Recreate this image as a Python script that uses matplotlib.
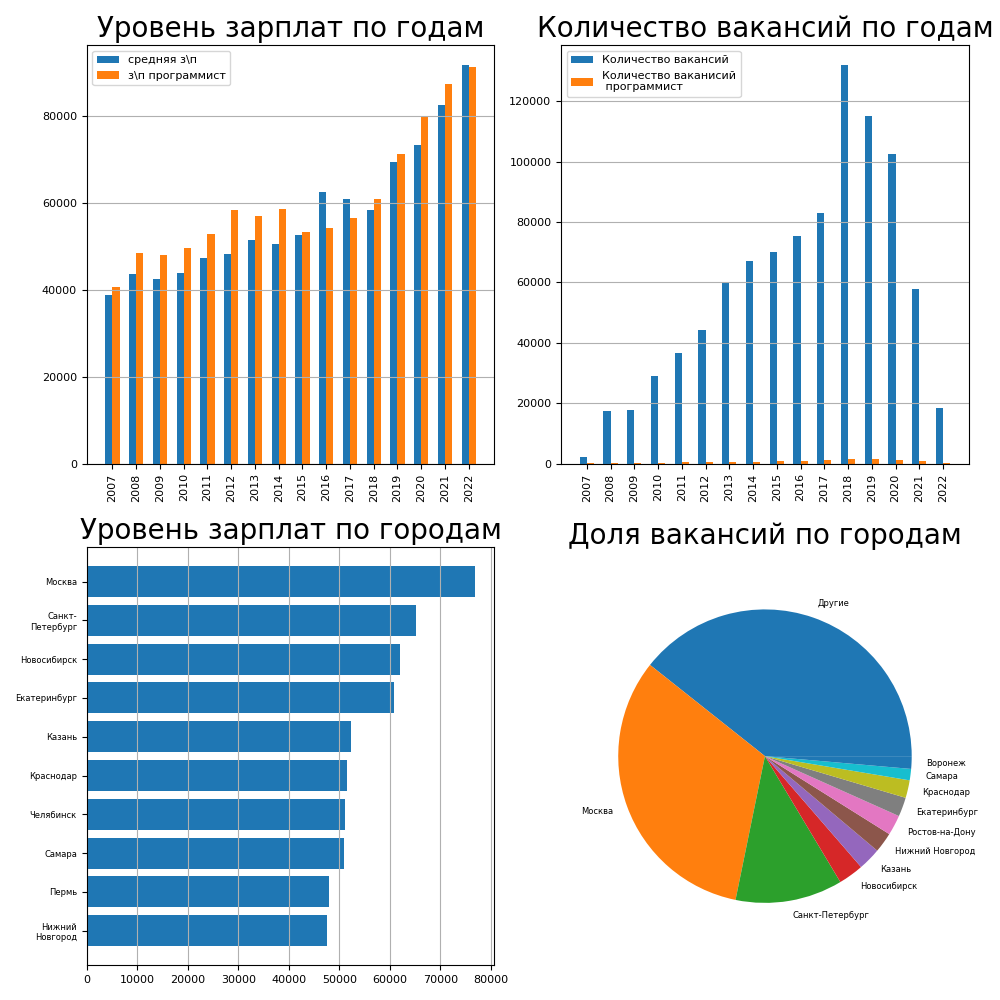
import numpy as np
import matplotlib
matplotlib.use("Agg")
import matplotlib.pyplot as plt

years = list(range(2007, 2023))
salary_avg = [38900, 43700, 42500, 43900, 47400, 48300, 51500, 50600, 52600,
              62500, 60900, 58400, 69400, 73300, 82500, 91700]
salary_prog = [40700, 48500, 48000, 49700, 52900, 58400, 57000, 58600, 53300,
               54300, 56600, 60900, 71300, 79800, 87400, 91300]
vac_all = [2300, 17500, 17900, 29100, 36700, 44300, 59800, 67100, 70100,
           75400, 83000, 131900, 115000, 102500, 57900, 18500]
vac_prog = [300, 300, 300, 300, 600, 600, 600, 600, 900, 900, 1200, 1500,
            1500, 1200, 900, 300]

cities = ["Москва", "Санкт-Петербург", "Новосибирск", "Екатеринбург", "Казань",
          "Краснодар", "Челябинск", "Самара", "Пермь", "Нижний Новгород"]
city_salary = [76800, 65100, 62100, 60900, 52400, 51600, 51200, 51000, 48000, 47600]

pie_labels = ["Другие", "Москва", "Санкт-Петербург", "Новосибирск", "Казань",
              "Нижний Новгород", "Ростов-на-Дону", "Екатеринбург", "Краснодар",
              "Самара", "Воронеж"]
pie_shares = [141.6, 116.9, 42.5, 10, 9, 8, 8, 7.6, 7, 4.5, 5]

fig, axs = plt.subplots(2, 2, figsize=(10, 10), dpi=100)
x = np.arange(len(years))
w = 0.3

ax = axs[0, 0]
ax.bar(x - w / 2, salary_avg, w, label="средняя з\\п")
ax.bar(x + w / 2, salary_prog, w, label="з\\п программист")
ax.set_title("Уровень зарплат по годам", fontsize=20)
ax.set_xticks(x, years, rotation=90, fontsize=8)
ax.tick_params(axis="y", labelsize=8)
ax.legend(fontsize=8, loc="upper left")
ax.grid(axis="y")

ax = axs[0, 1]
ax.bar(x - w / 2, vac_all, w, label="Количество вакансий")
ax.bar(x + w / 2, vac_prog, w, label="Количество ваканисий\n программист")
ax.set_title("Количество вакансий по годам", fontsize=20)
ax.set_xticks(x, years, rotation=90, fontsize=8)
ax.tick_params(axis="y", labelsize=8)
ax.legend(fontsize=8, loc="upper left")
ax.grid(axis="y")

ax = axs[1, 0]
names = [c.replace("-", "-\n").replace(" ", "\n") for c in cities]
ax.barh(names, city_salary)
ax.invert_yaxis()
ax.set_xlim(0, 80700)
ax.set_title("Уровень зарплат по городам", fontsize=20)
ax.tick_params(axis="y", labelsize=6)
ax.tick_params(axis="x", labelsize=8)
ax.grid(axis="x")

ax = axs[1, 1]
ax.pie(pie_shares, labels=pie_labels, radius=0.9, textprops={"fontsize": 6})
ax.set_title("Доля вакансий по городам", fontsize=20)

fig.tight_layout()
fig.savefig("out.png")
